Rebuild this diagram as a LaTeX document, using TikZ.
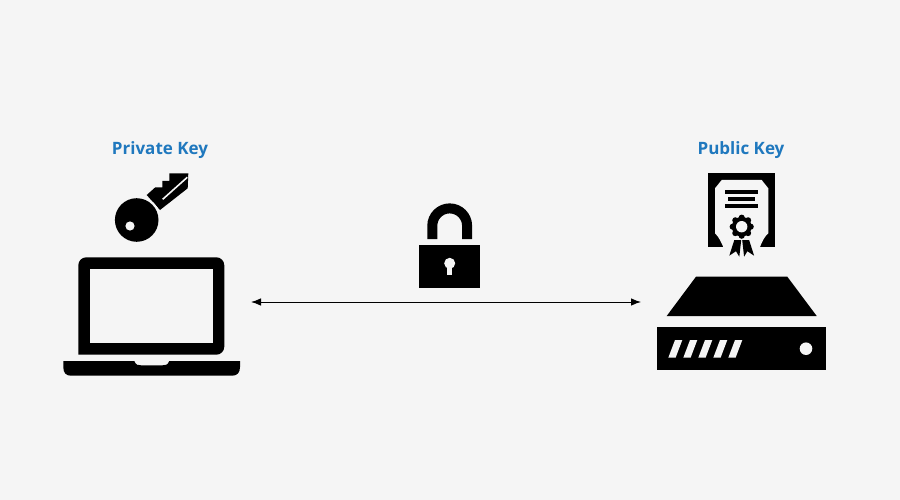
\documentclass[tikz,border=0pt]{standalone}
\usepackage{fontspec}
\setmainfont{Open Sans}
\usetikzlibrary{arrows.meta}
\definecolor{bgcol}{HTML}{F5F5F5}
\definecolor{labelcol}{HTML}{1F78BE}
\tikzset{
	title/.style={text=labelcol,font=\bfseries\fontsize{17}{19}\selectfont,inner sep=0pt},
	gap/.style={fill=bgcol},
	link/.style={line width=0.9pt,draw=black,{Latex[length=10pt,width=7.5pt]}-{Latex[length=10pt,width=7.5pt]}}
}
\begin{document}
\begin{tikzpicture}[x=1pt,y=-1pt]
	\fill[bgcol] (0,0) rectangle (900,500);
	\useasboundingbox (0,0) rectangle (900,500);
	\node[title] (private) at (160,150.5) {Private Key};
	\node[title] (public) at (741,150.5) {Public Key};
	% key
	\fill (146.7,195)--(155.3,187.3)--(162.3,187.3)--(162.3,181)--(169.3,181)--(169.3,173.3)--(188.3,173.3)--(187.7,188.3)--(160,210)--cycle;
	\draw[bgcol,line width=1.6pt] (162.7,199.3)--(187.3,177.3);
	\fill[gap] (136.7,220) circle(24.2);
	\fill (136.7,220) circle(21.8);
	\fill[gap] (130,226) circle(4.6);
	% laptop
	\fill[rounded corners=8pt] (78.3,354.7)--(78.3,257.3)--(224.3,257.3)--(224.3,354.7)[sharp corners]--cycle;
	\fill[gap] (90,269.3) rectangle (213.3,343.3);
	\fill (63.3,361)--(134.3,361) .. controls (136,365.3) and (138,365.3) .. (141,365.3)--(162.5,365.3) .. controls (165.5,365.3) and (167.5,365.3) .. (169.3,361)--(240,361)--(240,367) .. controls (240,373) and (237,375.7) .. (232,375.7)--(71,375.7) .. controls (66,375.7) and (63.3,373) .. (63.3,367)--cycle;
	% lock
	\draw[line width=10pt] (432.3,239)--(432.3,225.8) arc (180:360:17.4)--(467.1,239);
	\fill (419.3,245) rectangle (480,287.7);
	\fill[gap] (449.7,263.3) circle(5.5);
	\fill[gap] (447,264) rectangle (452.4,275);
	% certificate
	\fill (708.3,173)--(775,173)--(775,246.7)--(708.3,246.7)--cycle;
	\fill[gap] (715,188.3)--(721.7,180)--(761.7,180)--(768.3,188.3)--(768.3,233.3) .. controls (764,237) and (762,242) .. (760,247)--(723.3,247) .. controls (721,242) and (719,237) .. (715,233.3)--cycle;
	\fill (725,190) rectangle (758.3,193.6);
	\fill (728.3,197.2) rectangle (755,200.8);
	\fill (725,204.3) rectangle (758.3,207.9);
	\fill (734.3,240)--(729.3,255.7)--(736,251.2)--(739.3,256.7)--(741.2,240)--cycle;
	\fill (749.1,240)--(754.1,255.7)--(747.4,251.2)--(744.1,256.7)--(742.2,240)--cycle;
	\fill[gap] (741.7,226.7) circle(13.2);
	\foreach \ang in {0,45,...,315}
		\fill (741.7,226.7)+(\ang:9) circle(3.1);
	\fill (741.7,226.7) circle(9.8);
	\fill[gap] (741.7,226.7) circle(5.7);
	% server
	\fill (696,276.7)--(787.3,276.7)--(816.7,316)--(666.7,316)--cycle;
	\fill (656.7,327.3) rectangle (826,369.7);
	\foreach \i in {0,...,4}
		\fill[gap,xshift=15*\i] (668.3,357.7)--(675,340)--(682.3,340)--(675.6,357.7)--cycle;
	\fill[gap] (806,348.7) circle(6.3);
	% link
	\coordinate (leftend) at (251,302);
	\coordinate (rightend) at (641,302);
	\draw[link] (leftend)--(rightend);
\end{tikzpicture}
\end{document}
